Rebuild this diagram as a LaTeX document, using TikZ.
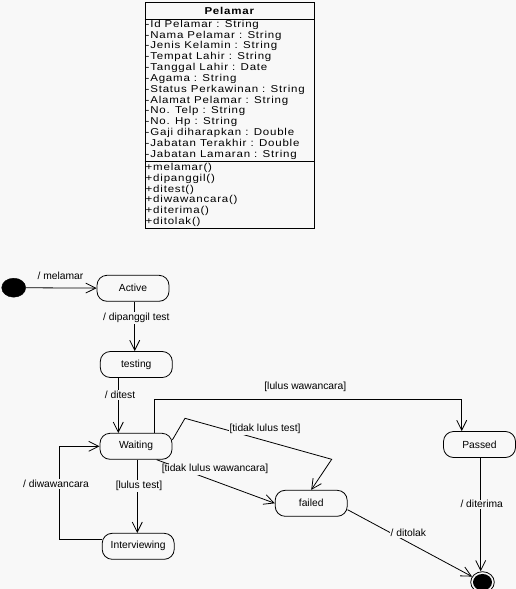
\documentclass[tikz,border=0pt]{standalone}
\usepackage{fontspec}
\setmainfont{Liberation Sans}
\newfontfamily\clsfont[LetterSpace=8,FakeStretch=1.15]{Liberation Sans}
\usetikzlibrary{arrows.meta,shapes.geometric,calc}
\definecolor{bgc}{RGB}{248,248,248}
\begin{document}
\begin{tikzpicture}[x=1pt,y=-1pt,
  every node/.style={inner sep=0pt},
  state/.style={draw,line width=0.8pt,rounded corners=10pt,minimum width=72pt,minimum height=26pt,font=\fontsize{10.3}{12}\selectfont},
  lbl/.style={font=\fontsize{10.3}{12}\selectfont, fill=bgc, inner sep=1pt},
  arr/.style={line width=0.8pt,-{Straight Barb[length=10pt,width=10pt]}},
  cls/.style={anchor=west,font=\fontsize{10}{12}\clsfont,text height=7pt,text depth=2pt}
]
\useasboundingbox[fill=bgc] (0,0) rectangle (516,589);

% class box
\node[draw,line width=0.8pt,minimum width=169.3pt,minimum height=226pt,anchor=north west] (cls) at (144.7,2) {};
\coordinate (s1) at (0,19);
\coordinate (s2) at (0,161);
\draw[line width=0.8pt] (cls.west |- s1) -- (cls.east |- s1);
\draw[line width=0.8pt] (cls.west |- s2) -- (cls.east |- s2);
\node[font=\fontsize{10}{12}\clsfont\bfseries] (title) at (229.3,11) {Pelamar};
\foreach \t [count=\i from 0] in {-Id Pelamar : String,-Nama Pelamar : String,-Jenis Kelamin : String,-Tempat Lahir : String,-Tanggal Lahir : Date,-Agama : String,-Status Perkawinan : String,-Alamat Pelamar : String,-No. Telp : String,-No. Hp : String,-Gaji diharapkan : Double,-Jabatan Terakhir : Double,-Jabatan Lamaran : String}
  \node[cls] (a\i) at (145.5,{24.8+10.83*\i}) {\t};
\foreach \t [count=\i from 0] in {+melamar(),+dipanggil(),+ditest(),+diwawancara(),+diterima(),+ditolak()}
  \node[cls] (m\i) at (145.5,{168+10.8*\i}) {\t};

% states
\node[ellipse,fill=black,draw,minimum width=24pt,minimum height=19pt] (init) at (13.7,287.7) {};
\node[state] (active) at (133,288.3) {Active};
\node[state] (testing) at (136.3,364.5) {testing};
\node[state] (waiting) at (136,446.3) {Waiting};
\node[state] (passed) at (479.5,444.5) {Passed};
\node[state] (failed) at (311.2,503.3) {failed};
\node[state] (interviewing) at (138.2,546.3) {Interviewing};
\node[ellipse,draw,line width=0.8pt,minimum width=23.6pt,minimum height=21pt] (fin) at (482.5,582.2) {};
\node[ellipse,fill=black,minimum width=19pt,minimum height=16.5pt] (finin) at (fin) {};

% transitions
\draw[arr] (init) -- (active);
\node[lbl] (lmel) at (60.5,276) {/ melamar};

\coordinate (xa) at (134.7,0);
\draw[arr] (active.south -| xa) -- (testing.north -| xa);
\node[lbl] (ldip) at (136.3,317.7) {/ dipanggil test};

\coordinate (xb) at (118.3,0);
\draw[arr] (testing.south -| xb) -- (waiting.north -| xb);
\node[lbl] (ldit) at (120,395) {/ ditest};

\coordinate (c1) at (154,399.3);
\coordinate (c2) at (461.7,399.3);
\draw[arr] (waiting.north -| c1) -- (c1) -- (c2) -- (passed.north -| c2);
\node[lbl] (llw) at (305.3,386.7) {[lulus wawancara]};

\coordinate (t1) at (185,418.3);
\coordinate (t2) at (331.7,459.3);
\draw[arr] (waiting.10) -- (t1) -- (t2) -- (failed.north);
\node[lbl] (ltlt) at (265,429.3) {[tidak lulus test]};

\draw[arr] (waiting.-33) -- (failed.west);
\node[lbl] (ltlw) at (215,469.3) {[tidak lulus wawancara]};

\coordinate (xc) at (137.3,0);
\draw[arr] (waiting.south -| xc) -- (interviewing.north -| xc);
\node[lbl] (llt) at (139,486) {[lulus test]};

\coordinate (c3) at (59.3,500);
\draw[arr] ($(interviewing.west)+(0,-7)$) -| (c3) |- (waiting.west);
\node[lbl] (ldiw) at (56,484) {/ diwawancara};

\coordinate (xd) at (480.7,0);
\draw[arr] (passed.south -| xd) -- (fin.north -| xd);
\node[lbl] (lter) at (481.7,504.3) {/ diterima};

\draw[arr] (failed.-10) -- (fin);
\node[lbl] (ltol) at (408.3,533.3) {/ ditolak};
\end{tikzpicture}
\end{document}
